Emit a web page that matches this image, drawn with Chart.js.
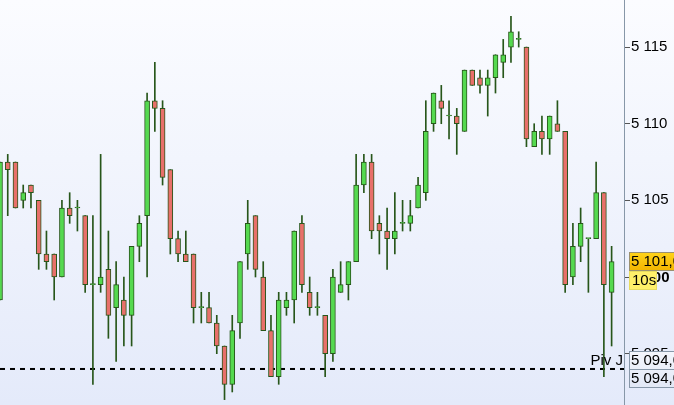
<!DOCTYPE html>
<html>
<head>
<meta charset="utf-8">
<script src="https://cdn.jsdelivr.net/npm/chart.js@4.4.1/dist/chart.umd.min.js"></script>
<style>
  html, body { margin: 0; padding: 0; background: #fff; }
  #wrap { width: 674px; height: 405px; }
</style>
</head>
<body>
<div id="wrap"><canvas id="myChart" width="674" height="405"></canvas></div>
<script>
// candles, oldest first
const openV  = [5098.5,5107.5,5107.5,5105.0,5106.0,5105.0,5101.5,5101.5,5100.0,5104.5,
                5104.5,5104.0,5099.5,5099.5,5100.5,5098.0,5098.5,5097.5,5102.0,5104.0,
                5111.5,5111.0,5107.0,5102.5,5101.5,5101.5,5098.0,5098.0,5097.0,5095.5,
                5093.0,5097.0,5101.5,5104.0,5100.0,5096.5,5093.5,5098.0,5098.5,5103.5,
                5099.0,5098.0,5097.5,5095.0,5099.0,5099.5,5101.0,5106.0,5107.5,5103.5,
                5103.0,5102.5,5103.5,5103.5,5104.5,5105.5,5110.0,5111.5,5110.5,5110.5,
                5109.5,5113.5,5113.0,5112.5,5113.0,5114.0,5115.0,5115.5,5115.0,5108.5,
                5109.5,5109.0,5110.0,5109.5,5100.0,5102.0,5102.5,5102.5,5105.5,5099.0];
const highV  = [5107.5,5108.0,5107.5,5106.0,5106.0,5105.0,5103.0,5101.5,5105.0,5105.5,
                5105.0,5104.0,5104.0,5108.0,5103.0,5101.0,5100.0,5102.0,5104.0,5112.0,
                5114.0,5111.5,5107.0,5103.0,5103.0,5101.5,5099.0,5099.0,5097.5,5095.5,
                5097.5,5101.0,5105.0,5104.0,5101.0,5097.5,5099.0,5099.0,5103.0,5104.0,
                5100.0,5099.0,5097.5,5100.5,5101.0,5101.0,5108.0,5108.0,5108.0,5104.0,
                5104.5,5105.5,5105.0,5105.0,5106.5,5111.5,5112.0,5112.5,5111.5,5111.0,
                5113.5,5113.5,5113.5,5113.5,5114.5,5115.5,5117.0,5116.0,5115.0,5110.0,
                5110.5,5110.5,5111.5,5109.5,5103.5,5104.5,5102.5,5107.5,5105.5,5102.0];
const lowV   = [5098.5,5104.0,5104.5,5104.5,5104.5,5100.5,5100.5,5098.5,5100.0,5103.5,
                5103.0,5099.0,5093.0,5099.0,5096.0,5094.5,5095.5,5095.5,5101.0,5100.0,
                5109.5,5106.0,5101.5,5101.0,5101.0,5097.0,5097.0,5097.0,5095.0,5092.0,
                5092.5,5096.0,5100.5,5100.0,5096.5,5093.5,5093.0,5097.5,5097.0,5099.0,
                5097.5,5097.5,5093.5,5094.5,5099.0,5098.5,5101.0,5105.5,5102.5,5101.5,
                5100.5,5101.5,5103.0,5103.0,5104.5,5105.0,5109.5,5110.0,5109.0,5108.0,
                5109.5,5112.5,5112.0,5110.5,5112.0,5113.0,5114.0,5115.0,5108.5,5108.5,
                5108.0,5108.0,5109.5,5099.0,5099.5,5101.0,5099.0,5102.5,5093.5,5095.5];
const closeV = [5107.5,5107.0,5104.5,5105.5,5105.5,5101.5,5101.0,5100.0,5104.5,5104.0,
                5104.5,5099.5,5099.5,5100.0,5097.5,5099.5,5097.5,5102.0,5103.5,5111.5,
                5111.0,5106.5,5102.5,5101.5,5101.0,5098.0,5098.0,5097.0,5095.5,5093.0,
                5096.5,5101.0,5103.5,5100.5,5096.5,5093.5,5098.5,5098.5,5103.0,5099.5,
                5098.0,5098.0,5095.0,5100.0,5099.5,5101.0,5106.0,5107.5,5103.0,5103.0,
                5102.5,5103.0,5103.5,5104.0,5106.0,5109.5,5112.0,5111.0,5110.5,5110.0,
                5113.5,5112.5,5112.5,5113.0,5114.5,5114.5,5116.0,5115.5,5109.0,5109.5,
                5109.0,5110.5,5109.5,5099.5,5102.0,5103.5,5102.5,5105.5,5099.5,5101.0];

const yTicks = [5095, 5100, 5105, 5110, 5115];
const lastPrice = 5101.0;
const pivotValue = 5094.0;
const pivotName = 'Piv J';

const upColor = '#55d94f';
const downColor = '#e8706a';
const edgeColor = '#27561a';

const bodies = openV.map((o, i) => ({ x: i, y: [o, closeV[i]] }));
const wicks = lowV.map((l, i) => ({ x: i, y: [l, highV[i]] }));
const bodyColors = openV.map((o, i) => closeV[i] >= o ? upColor : downColor);
const xMax = 80.6;

function fmt(v, dec) {
  let s = v.toFixed(dec).replace('.', ',');
  return s.slice(0, 1) + ' ' + s.slice(1);
}

const bgPlugin = {
  id: 'bg',
  beforeDraw(chart) {
    const ctx = chart.ctx;
    const g = ctx.createLinearGradient(0, 0, 0, chart.height);
    g.addColorStop(0, '#fbfcff');
    g.addColorStop(1, '#e4eafa');
    ctx.save();
    ctx.fillStyle = g;
    ctx.fillRect(0, 0, chart.width, chart.height);
    ctx.restore();
  }
};

function box(ctx, x, y, w, h, fill, stroke) {
  ctx.fillStyle = fill;
  ctx.fillRect(x, y, w, h);
  ctx.strokeStyle = stroke;
  ctx.lineWidth = 1;
  ctx.strokeRect(x + 0.5, y + 0.5, w - 1, h - 1);
}

const labelPlugin = {
  id: 'labels',
  afterDraw(chart) {
    const ctx = chart.ctx;
    const ys = chart.scales.y;
    const left = chart.chartArea.right + 5;
    ctx.save();
    ctx.textBaseline = 'middle';
    ctx.textAlign = 'left';

    // bold label hidden under the price boxes
    const y100 = ys.getPixelForValue(5100);
    ctx.font = 'bold 15px "Liberation Sans"';
    ctx.fillStyle = '#000';
    ctx.fillText('5 100', 632, y100 + 1);

    // last price
    const yl = Math.round(ys.getPixelForValue(lastPrice));
    const g = ctx.createLinearGradient(0, yl - 9, 0, yl + 9);
    g.addColorStop(0, '#ffd21a');
    g.addColorStop(1, '#f2b400');
    box(ctx, left, yl - 10, 60, 19, g, '#9a9070');
    ctx.font = '15px "Liberation Sans"';
    ctx.fillStyle = '#000';
    ctx.fillText(fmt(lastPrice, 1), left + 2, yl);
    box(ctx, left, yl + 9, 28, 19, '#fff06a', '#e8dc60');
    ctx.fillStyle = '#000';
    ctx.fillText('10s', left + 3, yl + 19);

    // pivot
    const yp = Math.round(ys.getPixelForValue(pivotValue));
    const pg = ctx.createLinearGradient(0, yp - 18, 0, yp + 18);
    pg.addColorStop(0, '#f4f6fc');
    pg.addColorStop(1, '#e2e8f6');
    box(ctx, left, yp - 18, 60, 19, pg, '#8797a8');
    box(ctx, left, yp, 60, 19, pg, '#8797a8');
    ctx.fillStyle = '#000';
    ctx.fillText(fmt(pivotValue, 1), left + 2, yp - 8);
    ctx.fillText(fmt(pivotValue, 1), left + 2, yp + 10);
    ctx.textAlign = 'right';
    ctx.fillText(pivotName, chart.chartArea.right - 1, yp - 8);
    ctx.restore();
  }
};

new Chart('myChart', {
  type: 'bar',
  data: {
    datasets: [{
      data: bodies,
      backgroundColor: bodyColors,
      borderColor: edgeColor,
      borderWidth: 1,
      borderSkipped: false,
      barThickness: 5,
      minBarLength: 1,
      grouped: false
    }, {
      data: wicks,
      backgroundColor: edgeColor,
      borderWidth: 0,
      barThickness: 1,
      grouped: false
    }, {
      type: 'line',
      data: [{ x: 0, y: pivotValue }, { x: xMax, y: pivotValue }],
      borderColor: '#000',
      borderWidth: 2,
      borderDash: [5, 5],
      pointRadius: 0,
      fill: false
    }]
  },
  options: {
    responsive: false,
    animation: false,
    layout: { padding: 0 },
    plugins: { legend: { display: false }, tooltip: { enabled: false } },
    scales: {
      x: { type: 'linear', min: 0, max: xMax, offset: false, display: false },
      y: {
        position: 'right',
        min: 5091.65,
        max: 5118.07,
        afterBuildTicks(scale) { scale.ticks = yTicks.map(v => ({ value: v })); },
        afterFit(scale) { scale.width = 50; scale.paddingTop = 0; scale.paddingBottom = 0; },
        grid: { drawOnChartArea: false, drawTicks: true, tickLength: 6, color: '#555' },
        border: { display: true, color: '#8797a8' },
        ticks: {
          padding: 1,
          color: '#000',
          font: { family: '"Liberation Sans"', size: 15 },
          callback: v => v === 5100 ? '' : fmt(v, 0)
        }
      }
    }
  },
  plugins: [bgPlugin, labelPlugin]
});
</script>
</body>
</html>
